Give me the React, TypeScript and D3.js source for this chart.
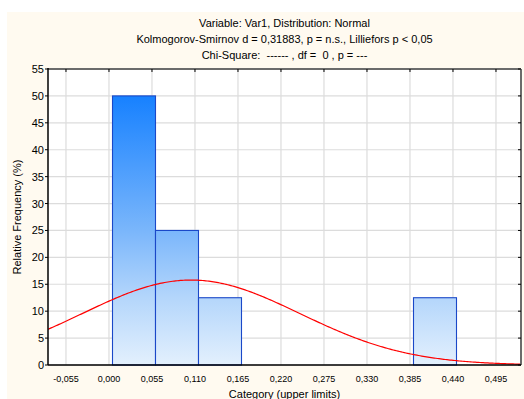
import React from "react";
import * as d3 from "d3";

const titleLines = [
  "Variable: Var1, Distribution: Normal",
  "Kolmogorov-Smirnov d = 0,31883, p = n.s., Lilliefors p < 0,05",
  "Chi-Square:  ------ , df =  0 , p = ---",
];
const xTicks = [-0.055, 0, 0.055, 0.11, 0.165, 0.22, 0.275, 0.33, 0.385, 0.44, 0.495];
const yTicks = [0, 5, 10, 15, 20, 25, 30, 35, 40, 45, 50, 55];
const binLower = [0.0045, 0.0595, 0.1145, 0.3895];
const binFreq = [50, 25, 12.5, 12.5];
const binWidth = 0.055;
const fitMean = 0.105;
const fitSd = 0.139;

const W = 524;
const H = 399;
const m = { left: 48, right: 521, top: 69, bottom: 365 };
const font = "'Liberation Sans', Arial, sans-serif";

export default function App() {
  const x = d3.scaleLinear().domain([-0.078, 0.527]).range([m.left, m.right]);
  const y = d3.scaleLinear().domain([0, 55]).range([m.bottom, m.top]);
  const fmt = (v: number) => (Math.abs(v) < 1e-9 ? "0,000" : d3.format(".3f")(v).replace(".", ",").replace("−", "-"));

  const curveX = d3.range(0, 301).map((i) => -0.078 + (i / 300) * (0.527 + 0.078));
  const pdf = (v: number) =>
    (100 * binWidth) / (fitSd * Math.sqrt(2 * Math.PI)) * Math.exp(-0.5 * ((v - fitMean) / fitSd) ** 2);
  const line = d3
    .line<number>()
    .x((d) => x(d))
    .y((d) => y(pdf(d)));

  return (
    <svg width={W} height={H} style={{ position: "absolute", left: 0, top: 0, display: "block" }} fontFamily={font}>
      <defs>
        <linearGradient id="barGrad" gradientUnits="userSpaceOnUse" x1={0} x2={0} y1={y(50)} y2={y(0)}>
          <stop offset="0" stopColor="#1781ff" />
          <stop offset="0.5" stopColor="#7ab6fb" />
          <stop offset="0.75" stopColor="#b4d6fb" />
          <stop offset="1" stopColor="#e3f0fd" />
        </linearGradient>
        <clipPath id="plotClip">
          <rect x={m.left} y={m.top} width={m.right - m.left} height={m.bottom - m.top} />
        </clipPath>
      </defs>
      <rect x={0} y={0} width={W} height={H} fill="#ffffff" />
      <rect x={7} y={12} width={W - 7} height={H - 12} fill="#fffaf0" />
      <rect x={m.left} y={m.top} width={m.right - m.left} height={m.bottom - m.top} fill="#ffffff" />

      {titleLines.map((t, i) => (
        <text
          key={i}
          x={(m.left + m.right) / 2}
          y={27 + i * 16}
          textAnchor="middle"
          fontSize={11}
          fill="#000"
          style={{ whiteSpace: "pre" }}
        >
          {t}
        </text>
      ))}

      {xTicks.map((t) => (
        <line key={"gx" + t} x1={x(t)} x2={x(t)} y1={m.top} y2={m.bottom} stroke="#dcdcdc" strokeWidth={1.2} />
      ))}
      {yTicks.map((t) => (
        <line key={"gy" + t} x1={m.left} x2={m.right} y1={y(t)} y2={y(t)} stroke="#dcdcdc" strokeWidth={1.2} />
      ))}

      {binLower.map((b, i) => (
        <rect
          key={"bar" + i}
          x={x(b)}
          y={y(binFreq[i])}
          width={x(b + binWidth) - x(b)}
          height={y(0) - y(binFreq[i])}
          fill="url(#barGrad)"
          stroke="#1a48c8"
          strokeWidth={1.1}
        />
      ))}

      <path d={line(curveX) || ""} fill="none" stroke="#ff0000" strokeWidth={1.2} clipPath="url(#plotClip)" />

      {/* frame */}
      <line x1={m.left} x2={m.right} y1={m.top} y2={m.top} stroke="#6b6b6b" strokeWidth={2} />
      <line x1={m.right} x2={m.right} y1={m.top} y2={m.bottom} stroke="#6b6b6b" strokeWidth={2} />
      <line x1={m.left} x2={m.left} y1={m.top - 1} y2={m.bottom} stroke="#000" strokeWidth={1.5} />
      <line x1={m.left} x2={m.right} y1={m.bottom} y2={m.bottom} stroke="#000" strokeWidth={1.5} />
      {xTicks.map((t) => (
        <line key={"tt" + t} x1={x(t)} x2={x(t)} y1={m.top} y2={m.top + 3} stroke="#000" strokeWidth={1} />
      ))}
      {yTicks.map((t) => (
        <line key={"rt" + t} x1={m.right - 3} x2={m.right} y1={y(t)} y2={y(t)} stroke="#000" strokeWidth={1} />
      ))}
      {yTicks.map((t) => (
        <line key={"lt" + t} x1={m.left - 3} x2={m.left} y1={y(t)} y2={y(t)} stroke="#000" strokeWidth={1} />
      ))}

      {yTicks.map((t) => (
        <text key={"yl" + t} x={44} y={y(t) + 4} textAnchor="end" fontSize={11} fill="#000">
          {t}
        </text>
      ))}
      {xTicks.map((t) => (
        <text key={"xl" + t} x={x(t)} y={382} textAnchor="middle" fontSize={9} fill="#000">
          {fmt(t)}
        </text>
      ))}

      <text
        transform={`translate(21,${(m.top + m.bottom) / 2}) rotate(-90)`}
        textAnchor="middle"
        fontSize={11}
        fill="#000"
      >
        Relative Frequency (%)
      </text>
      <text x={(m.left + m.right) / 2} y={398} textAnchor="middle" fontSize={11} fill="#000">
        Category (upper limits)
      </text>
    </svg>
  );
}
